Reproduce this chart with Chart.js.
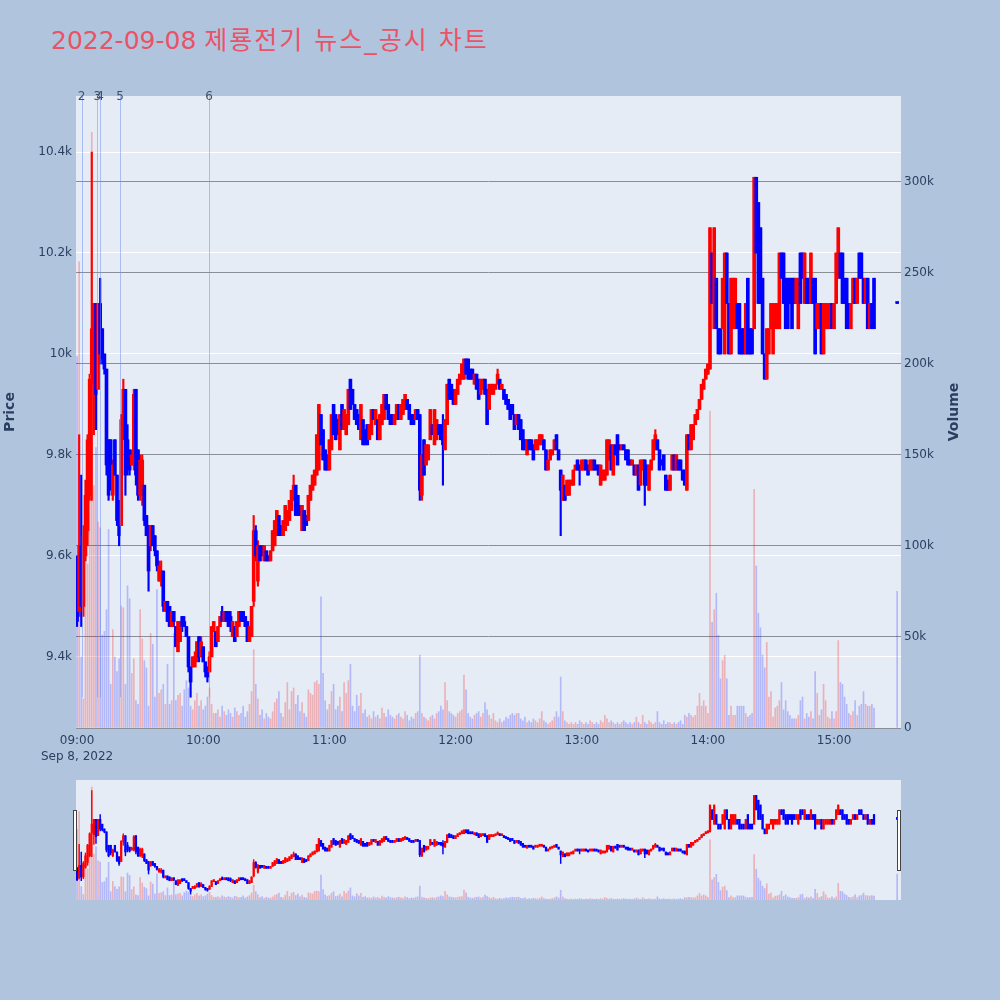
<!DOCTYPE html>
<html>
<head>
<meta charset="utf-8">
<script src="https://cdn.jsdelivr.net/npm/chart.js@4.4.0/dist/chart.umd.min.js"></script>
<style>
  body { margin: 0; width: 1000px; height: 1000px; background: #b0c4de; position: relative; overflow: hidden; }
  #title { position: absolute; left: 51px; top: 26px; font: 25px/30px "DejaVu Sans", "Noto Sans CJK KR", sans-serif; color: #ea5266; white-space: nowrap; }
  #title span { letter-spacing: 2px; }
  #main { position: absolute; left: 0; top: 0; }
  #slider { position: absolute; left: 66px; top: 775px; }
</style>
</head>
<body>
<div id="title">2022-09-08 <span>제룡전기 뉴스_공시 차트</span></div>
<canvas id="main" width="1000" height="775"></canvas>
<canvas id="slider" width="845" height="130"></canvas>
<script>
// 1분봉, 09:00 부터 연속 + 15:30 동시호가
const sessionOpen = '09:00';
const closingAuction = '15:30';
const tradeDate = 'Sep 8, 2022';

const open = [
  9590,9490,9620,9500,9600,9650,9720,9960,9940,10100,
  9930,10100,10050,10000,9970,9830,9830,9720,9830,9760,
  9710,9660,9870,9930,9830,9810,9780,9780,9930,9810,
  9720,9720,9740,9680,9660,9620,9660,9640,9610,9550,
  9550,9570,9490,9510,9500,9460,9490,9460,9410,9430,
  9480,9470,9460,9440,9380,9380,9380,9400,9440,9400,
  9420,9390,9380,9370,9400,9450,9450,9430,9460,9490,
  9470,9490,9490,9480,9440,9460,9440,9460,9490,9490,
  9480,9470,9430,9440,9510,9650,9550,9620,9620,9590,
  9610,9600,9590,9610,9620,9640,9680,9660,9640,9650,
  9660,9670,9690,9710,9740,9720,9700,9650,9690,9680,
  9670,9710,9730,9740,9760,9770,9880,9850,9810,9800,
  9770,9810,9900,9880,9870,9810,9900,9850,9840,9860,
  9950,9930,9900,9890,9880,9830,9870,9850,9860,9830,
  9840,9890,9860,9870,9830,9860,9870,9920,9900,9880,
  9880,9860,9870,9900,9870,9880,9890,9910,9900,9880,
  9880,9870,9890,9880,9720,9830,9780,9790,9830,9860,
  9820,9830,9860,9860,9850,9810,9860,9950,9940,9930,
  9900,9920,9940,9950,9950,9990,9990,9970,9970,9940,
  9960,9950,9920,9930,9950,9930,9890,9920,9920,9930,
  9940,9950,9930,9930,9920,9910,9900,9900,9880,9860,
  9880,9870,9850,9830,9800,9830,9830,9820,9810,9810,
  9820,9820,9830,9810,9770,9790,9800,9810,9840,9810,
  9770,9710,9740,9720,9720,9740,9740,9770,9790,9780,
  9770,9770,9790,9780,9770,9770,9790,9780,9780,9740,
  9750,9750,9760,9790,9820,9760,9820,9840,9820,9810,
  9820,9810,9810,9790,9780,9780,9760,9780,9740,9770,
  9790,9780,9730,9770,9790,9810,9830,9810,9790,9800,
  9760,9750,9730,9770,9800,9770,9790,9790,9770,9770,
  9730,9840,9810,9830,9860,9870,9890,9910,9930,9950,
  9960,9970,10200,10050,10150,10050,10050,10050,10000,10200,
  10100,10000,10050,10050,10100,10100,10050,10050,10000,10150,
  10050,10050,10050,10350,10300,10250,10150,10000,9950,10000,
  10050,10000,10050,10050,10050,10200,10200,10150,10150,10150,
  10150,10150,10100,10050,10200,10200,10100,10150,10150,10100,
  10150,10150,10050,10050,10100,10000,10050,10050,10050,10100,
  10050,10100,10150,10200,10200,10150,10150,10100,10050,10100,
  10150,10100,10200,10200,10150,10100,10150,10050,10100,10150,
  10100
];
const high = [
  9600,9840,9760,9660,9750,9840,9960,10400,10100,10100,
  10100,10150,10050,10000,9970,9830,9830,9790,9830,9760,
  9710,9880,9950,9930,9860,9810,9810,9930,9930,9810,
  9800,9800,9740,9680,9660,9660,9660,9640,9610,9590,
  9590,9570,9510,9510,9500,9490,9490,9460,9470,9470,
  9480,9480,9460,9440,9380,9400,9410,9430,9440,9440,
  9420,9390,9380,9410,9460,9470,9450,9460,9480,9500,
  9490,9490,9490,9490,9470,9460,9470,9490,9490,9490,
  9480,9470,9460,9500,9680,9660,9630,9620,9620,9620,
  9610,9600,9610,9650,9670,9690,9680,9660,9670,9700,
  9690,9710,9730,9760,9740,9720,9700,9700,9690,9680,
  9720,9740,9760,9770,9840,9900,9880,9850,9810,9800,
  9830,9880,9900,9880,9870,9880,9900,9890,9880,9930,
  9950,9930,9900,9890,9880,9900,9870,9850,9860,9860,
  9890,9890,9890,9870,9880,9900,9920,9920,9900,9880,
  9880,9880,9900,9900,9900,9910,9920,9910,9900,9880,
  9880,9890,9890,9880,9800,9830,9820,9820,9890,9860,
  9890,9870,9860,9860,9880,9870,9940,9950,9940,9930,
  9930,9950,9960,9980,9990,9990,9990,9970,9970,9960,
  9960,9950,9950,9950,9950,9930,9940,9940,9940,9940,
  9970,9950,9940,9930,9920,9910,9900,9900,9880,9880,
  9880,9870,9850,9830,9830,9830,9830,9820,9830,9830,
  9840,9840,9830,9810,9790,9810,9810,9830,9840,9810,
  9770,9760,9740,9750,9750,9750,9770,9780,9790,9780,
  9790,9790,9790,9780,9790,9790,9790,9780,9780,9780,
  9770,9770,9830,9830,9820,9820,9820,9840,9820,9820,
  9820,9810,9810,9790,9790,9780,9780,9780,9790,9790,
  9790,9780,9780,9790,9830,9850,9830,9810,9790,9800,
  9760,9750,9760,9800,9800,9800,9790,9790,9770,9770,
  9840,9840,9860,9860,9880,9890,9910,9940,9950,9970,
  9980,10250,10200,10250,10150,10050,10050,10150,10200,10200,
  10100,10150,10150,10150,10100,10100,10050,10050,10100,10150,
  10050,10050,10350,10350,10300,10250,10150,10000,10050,10050,
  10100,10100,10100,10100,10200,10200,10200,10150,10150,10150,
  10150,10150,10150,10150,10200,10200,10200,10150,10150,10200,
  10150,10150,10100,10100,10100,10100,10100,10100,10100,10100,
  10100,10200,10250,10200,10200,10150,10150,10100,10100,10150,
  10150,10150,10200,10200,10150,10150,10150,10100,10100,10150,
  10100
];
const low = [
  9460,9480,9460,9480,9590,9620,9710,9710,9840,9850,
  9930,9980,9980,9960,9760,9710,9730,9710,9760,9660,
  9620,9660,9830,9720,9760,9760,9780,9770,9740,9710,
  9710,9700,9660,9640,9530,9610,9620,9600,9570,9550,
  9540,9490,9490,9470,9460,9460,9460,9420,9410,9430,
  9450,9460,9440,9370,9320,9380,9380,9390,9390,9400,
  9390,9360,9350,9370,9400,9450,9420,9430,9460,9470,
  9470,9470,9460,9450,9440,9430,9440,9460,9470,9470,
  9460,9430,9430,9440,9500,9590,9540,9590,9600,9590,
  9590,9590,9590,9610,9620,9640,9640,9640,9640,9650,
  9660,9670,9690,9710,9680,9680,9680,9650,9650,9660,
  9670,9710,9730,9740,9760,9770,9820,9790,9770,9770,
  9770,9810,9840,9830,9840,9810,9850,9850,9840,9860,
  9890,9900,9870,9860,9850,9830,9820,9820,9820,9830,
  9840,9870,9860,9830,9830,9860,9870,9890,9870,9860,
  9860,9860,9870,9870,9870,9880,9890,9890,9870,9860,
  9860,9870,9870,9710,9710,9760,9780,9790,9830,9840,
  9820,9830,9840,9830,9740,9810,9860,9910,9910,9900,
  9900,9920,9940,9950,9950,9960,9950,9950,9950,9940,
  9930,9910,9920,9930,9920,9860,9890,9920,9920,9930,
  9940,9930,9930,9910,9900,9890,9870,9880,9850,9860,
  9850,9830,9810,9810,9800,9810,9810,9790,9810,9810,
  9820,9820,9810,9770,9770,9790,9800,9810,9810,9790,
  9640,9710,9710,9720,9720,9740,9740,9770,9770,9740,
  9770,9770,9770,9760,9770,9770,9770,9770,9760,9740,
  9750,9750,9760,9790,9770,9760,9800,9780,9810,9810,
  9810,9790,9780,9780,9780,9760,9760,9730,9740,9770,
  9700,9740,9730,9770,9790,9810,9810,9770,9780,9770,
  9730,9730,9730,9770,9770,9770,9770,9770,9750,9740,
  9730,9810,9810,9830,9860,9870,9890,9910,9930,9950,
  9960,9970,10100,10050,10050,10000,10000,10050,10000,10100,
  10000,10000,10050,10050,10050,10000,10000,10000,10000,10000,
  10000,10000,10050,10200,10100,10100,10000,9950,9950,10000,
  10050,10000,10050,10050,10050,10150,10100,10050,10050,10100,
  10050,10100,10100,10050,10100,10150,10100,10100,10100,10100,
  10100,10000,10050,10050,10000,10000,10050,10050,10050,10050,
  10050,10100,10150,10150,10100,10100,10050,10050,10050,10100,
  10100,10100,10150,10150,10100,10100,10050,10050,10050,10050,
  10100
];
const close = [
  9470,9620,9500,9640,9720,9830,9950,10050,10100,9920,
  10100,10000,9990,9970,9780,9720,9750,9780,9760,9670,
  9640,9870,9930,9760,9780,9770,9800,9920,9760,9720,
  9790,9790,9670,9640,9570,9660,9620,9610,9580,9580,
  9570,9500,9510,9470,9460,9490,9470,9420,9470,9470,
  9460,9460,9440,9380,9350,9400,9400,9430,9400,9430,
  9390,9370,9360,9400,9460,9470,9420,9460,9480,9470,
  9490,9470,9460,9460,9470,9430,9470,9490,9470,9470,
  9460,9430,9460,9500,9650,9600,9620,9590,9600,9620,
  9590,9590,9610,9650,9670,9690,9640,9640,9670,9700,
  9690,9710,9730,9740,9680,9680,9680,9700,9650,9660,
  9720,9740,9760,9770,9840,9900,9820,9790,9770,9770,
  9830,9880,9840,9830,9840,9880,9850,9890,9880,9930,
  9890,9900,9870,9860,9850,9900,9820,9820,9820,9860,
  9890,9870,9890,9830,9880,9900,9920,9890,9870,9860,
  9860,9880,9900,9870,9900,9910,9920,9890,9870,9860,
  9860,9890,9870,9730,9800,9760,9820,9820,9890,9840,
  9890,9870,9840,9830,9820,9870,9940,9910,9910,9900,
  9930,9950,9960,9980,9990,9960,9950,9950,9950,9960,
  9930,9910,9950,9950,9920,9860,9940,9940,9940,9940,
  9960,9930,9940,9910,9900,9890,9870,9880,9850,9880,
  9850,9830,9810,9810,9830,9810,9810,9790,9830,9830,
  9840,9840,9810,9770,9790,9810,9810,9830,9810,9790,
  9730,9760,9710,9750,9750,9750,9770,9780,9770,9770,
  9790,9790,9770,9760,9790,9790,9770,9770,9760,9780,
  9770,9770,9830,9830,9770,9820,9800,9780,9810,9820,
  9810,9790,9780,9780,9790,9760,9780,9730,9790,9790,
  9740,9740,9780,9790,9830,9840,9810,9770,9780,9770,
  9730,9730,9760,9800,9770,9800,9770,9770,9750,9740,
  9840,9810,9860,9860,9880,9890,9910,9940,9950,9970,
  9980,10250,10100,10250,10050,10000,10000,10150,10200,10100,
  10000,10150,10150,10150,10050,10000,10000,10000,10100,10000,
  10000,10000,10350,10200,10100,10100,10000,9950,10050,10050,
  10100,10100,10100,10100,10200,10150,10100,10050,10050,10100,
  10050,10100,10150,10150,10100,10150,10200,10100,10100,10200,
  10100,10000,10100,10100,10000,10100,10100,10100,10100,10050,
  10100,10200,10250,10150,10100,10100,10050,10050,10100,10150,
  10100,10150,10150,10150,10100,10150,10050,10100,10050,10050,
  10100
];
// 거래량 (천주)
const volumeK = [
  204,256,39,16,108,90,161,327,133,154,
  113,110,51,53,65,109,24,54,39,31,
  38,67,66,24,78,71,30,38,15,13,
  65,49,37,33,12,52,46,17,76,19,
  21,24,13,35,13,15,52,15,18,19,
  12,21,26,22,12,10,15,19,12,15,
  10,12,17,22,13,8,8,10,6,12,
  9,7,10,8,6,11,9,7,8,12,
  6,9,13,20,43,24,16,7,10,5,
  8,6,5,9,14,16,20,8,6,14,
  25,10,20,22,13,18,9,14,8,6,
  21,19,18,25,26,24,72,30,15,10,
  13,20,24,10,12,17,9,25,19,26,
  35,12,9,18,12,19,8,10,6,7,
  5,9,6,7,5,11,8,6,10,7,
  6,5,7,8,6,5,9,7,4,6,
  5,8,9,40,8,6,5,4,6,7,
  5,8,9,12,10,25,15,9,8,7,
  6,8,9,10,29,21,8,6,5,7,
  8,9,6,8,14,10,7,5,8,4,
  3,5,3,4,6,5,7,8,7,8,
  8,5,4,6,3,4,3,5,4,3,
  5,9,4,3,2,3,4,6,9,6,
  28,9,4,3,2,3,2,3,2,4,
  3,2,3,2,4,3,2,3,2,4,
  3,7,5,3,4,3,2,3,2,3,
  4,3,2,3,2,3,6,3,2,7,
  3,2,4,3,2,3,9,3,2,4,
  2,3,3,2,3,2,3,4,2,7,
  6,8,7,6,7,12,19,12,15,12,
  8,174,58,65,74,51,27,37,40,27,
  7,12,7,7,12,12,12,12,8,6,
  7,8,131,89,63,55,40,33,47,17,
  20,6,11,12,15,25,10,15,9,7,
  5,5,5,7,15,17,5,8,6,9,
  5,31,19,7,10,24,15,6,5,9,
  5,9,48,25,24,17,13,8,7,9,
  15,7,12,13,20,13,12,12,13,11,
  75
];

const hourTicks = ['09:00', '10:00', '11:00', '12:00', '13:00', '14:00', '15:00'];
const priceTicks = [9400, 9600, 9800, 10000, 10200, 10400];
const volumeTicks = [0, 50, 100, 150, 200, 250, 300];
const newsNo = ['2', '3', '4', '5', '6'];
const newsTime = ['09:02:10', '09:09:40', '09:10:55', '09:20:25', '10:02:50'];

function toMin(s) {
  const p = s.split(':').map(Number);
  const o = sessionOpen.split(':').map(Number);
  return (p[0] - o[0]) * 60 + (p[1] - o[1]) + (p[2] || 0) / 60;
}
function hhmm(m) {
  const t = Math.round(m) + 9 * 60;
  return String(Math.floor(t / 60)).padStart(2, '0') + ':' + String(t % 60).padStart(2, '0');
}

// 캔들 시간: 마지막 하나는 동시호가
const xs = close.map((c, i) => i === close.length - 1 ? toMin(closingAuction) : i);
const up = close.map((c, i) => c > open[i]);

const xRange = [toMin('08:59:30'), toMin('15:31:50')];
const priceRange = [9259, 10511];
const volRange = [0, 347];

const FONT = '"DejaVu Sans", sans-serif';
Chart.defaults.font.family = FONT;
Chart.defaults.font.size = 12;
Chart.defaults.color = '#2a3f5f';

function makeDatasets(bodyW, wickW, volW) {
  return [
    {
      label: 'body', order: 0, yAxisID: 'y', grouped: false,
      data: xs.map((x, i) => ({ x: x, y: [open[i], close[i]] })),
      backgroundColor: up.map(u => u ? '#ff0000' : '#0000ff'),
      barThickness: bodyW, minBarLength: 2
    },
    {
      label: 'wick', order: 1, yAxisID: 'y', grouped: false,
      data: xs.map((x, i) => ({ x: x, y: [low[i], high[i]] })),
      backgroundColor: up.map(u => u ? '#ff0000' : '#0000ff'),
      barThickness: wickW, minBarLength: 1
    },
    {
      label: 'Volume', order: 2, yAxisID: 'y2', grouped: false,
      data: xs.map((x, i) => ({ x: x, y: volumeK[i] })),
      backgroundColor: up.map(u => u ? 'rgba(255,0,0,0.25)' : 'rgba(0,0,255,0.22)'),
      barThickness: volW
    }
  ];
}

const plotBg = {
  id: 'plotBg',
  beforeDraw(chart) {
    const a = chart.chartArea, ctx = chart.ctx;
    ctx.save();
    ctx.fillStyle = '#e5ecf6';
    ctx.fillRect(a.left, a.top, a.right - a.left, a.bottom - a.top);
    ctx.restore();
  }
};

const newsMarks = {
  id: 'newsMarks',
  afterDatasetsDraw(chart) {
    const { ctx, chartArea: a, scales: { x, y } } = chart;
    const yBottom = y.getPixelForValue(Math.min(...low));
    ctx.save();
    ctx.strokeStyle = 'rgba(110,140,245,0.5)';
    ctx.lineWidth = 1;
    newsTime.forEach(t => {
      const px = Math.round(x.getPixelForValue(toMin(t))) + 0.5;
      ctx.beginPath();
      ctx.moveTo(px, a.top);
      ctx.lineTo(px, yBottom);
      ctx.stroke();
    });
    ctx.fillStyle = '#3f4f6b';
    ctx.font = '12px ' + FONT;
    ctx.textAlign = 'center';
    ctx.textBaseline = 'middle';
    newsTime.forEach((t, i) => {
      ctx.fillText(newsNo[i], x.getPixelForValue(toMin(t)), a.top + 1);
    });
    ctx.restore();
  }
};

const axisTitles = {
  id: 'axisTitles',
  afterDraw(chart) {
    const { ctx, chartArea: a } = chart;
    const cy = (a.top + a.bottom) / 2;
    ctx.save();
    ctx.fillStyle = '#2a3f5f';
    ctx.font = 'bold 14px ' + FONT;
    ctx.textAlign = 'center';
    ctx.textBaseline = 'middle';
    [['Price', 10], ['Volume', 954]].forEach(([txt, px]) => {
      ctx.save();
      ctx.translate(px, cy);
      ctx.rotate(-Math.PI / 2);
      ctx.fillText(txt, 0, 0);
      ctx.restore();
    });
    ctx.restore();
  }
};

new Chart(document.getElementById('main'), {
  type: 'bar',
  data: { datasets: makeDatasets(3, 1.5, 1) },
  options: {
    responsive: false,
    animation: false,
    devicePixelRatio: 1,
    layout: { padding: { top: 96, left: 0, right: 0, bottom: 0 } },
    plugins: { legend: { display: false }, tooltip: { enabled: false } },
    scales: {
      x: {
        type: 'linear', min: xRange[0], max: xRange[1], offset: false,
        grid: { display: false, drawTicks: false }, border: { display: false },
        afterBuildTicks: s => { s.ticks = hourTicks.map(h => ({ value: toMin(h) })); },
        afterFit: s => { s.height = 47; },
        ticks: {
          autoSkip: false, maxRotation: 0, padding: 5,
          font: { size: 12, lineHeight: 1.3 },
          callback: (v, i) => i === 0 ? [hhmm(v), tradeDate] : hhmm(v)
        }
      },
      y: {
        position: 'left', min: priceRange[0], max: priceRange[1],
        grid: { color: '#ffffff', lineWidth: 1, drawTicks: false }, border: { display: false },
        afterBuildTicks: s => { s.ticks = priceTicks.map(v => ({ value: v })); },
        afterFit: s => { s.width = 76; },
        ticks: { padding: 4, callback: v => (v / 1000) + 'k' }
      },
      y2: {
        position: 'right', min: volRange[0], max: volRange[1],
        grid: { color: '#8a8e96', lineWidth: 1, drawTicks: false }, border: { display: false },
        afterBuildTicks: s => { s.ticks = volumeTicks.map(v => ({ value: v })); },
        afterFit: s => { s.width = 99; },
        ticks: { padding: 3, callback: v => v === 0 ? '0' : v + 'k' }
      }
    }
  },
  plugins: [plotBg, newsMarks, axisTitles]
});

const sliderHandles = {
  id: 'sliderHandles',
  afterDraw(chart) {
    const { ctx, chartArea: a } = chart;
    ctx.save();
    ctx.fillStyle = '#ffffff';
    ctx.strokeStyle = '#444444';
    ctx.lineWidth = 1;
    [a.left - 3, a.right - 4].forEach(hx => {
      ctx.fillRect(hx + 0.5, a.top + 30.5, 3, 60);
      ctx.strokeRect(hx + 0.5, a.top + 30.5, 3, 60);
    });
    ctx.restore();
  }
};

new Chart(document.getElementById('slider'), {
  type: 'bar',
  data: { datasets: makeDatasets(1.6, 0.8, 1) },
  options: {
    responsive: false,
    animation: false,
    devicePixelRatio: 1,
    layout: { padding: { top: 5, left: 10, right: 10, bottom: 5 } },
    plugins: { legend: { display: false }, tooltip: { enabled: false } },
    scales: {
      x: { type: 'linear', min: xRange[0], max: xRange[1], offset: false, display: false },
      y: { min: priceRange[0], max: priceRange[1], display: false },
      y2: { min: volRange[0], max: volRange[1], display: false }
    }
  },
  plugins: [plotBg, sliderHandles]
});
</script>
</body>
</html>
